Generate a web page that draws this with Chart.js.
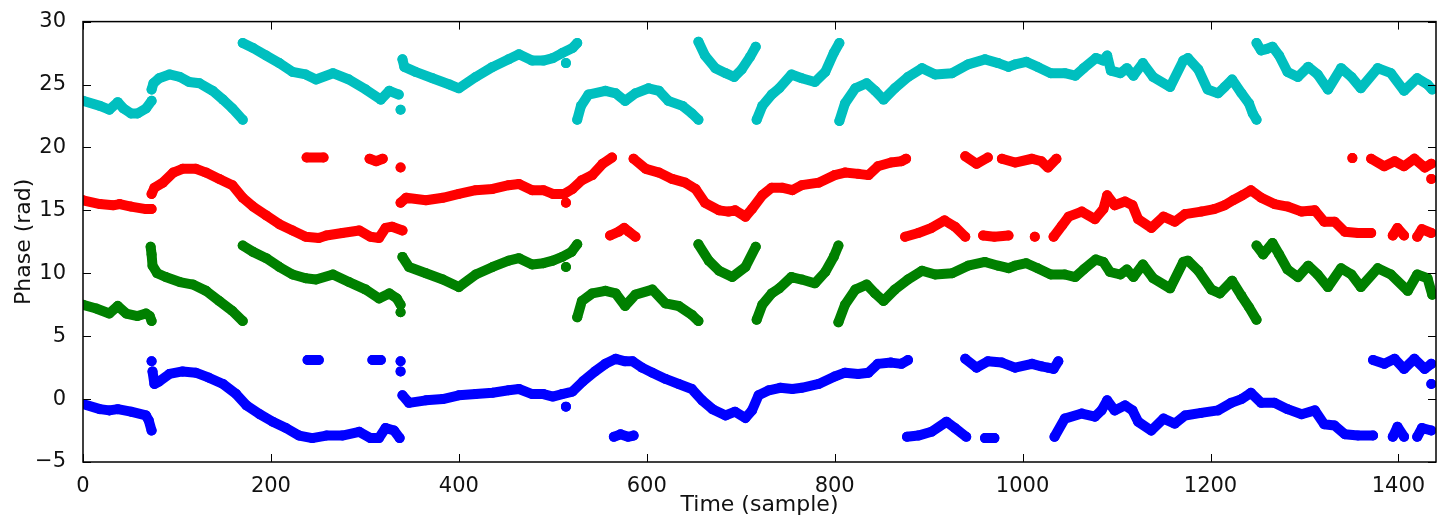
<!DOCTYPE html>
<html>
<head>
<meta charset="utf-8">
<script src="https://cdn.jsdelivr.net/npm/chart.js@4.4.1/dist/chart.umd.min.js"></script>
<style>
	html, body { margin: 0; padding: 0; background: #fff; }
	#wrap { width: 1441px; height: 520px; }
</style>
</head>
<body>
<div id="wrap"><canvas id="phaseChart"></canvas></div>
<script>
// tick labels
var xTicks = [0, 200, 400, 600, 800, 1000, 1200, 1400];
var yTicks = [-5, 0, 5, 10, 15, 20, 25, 30];

// [sample, phase], null = break in the trace
var blue = [
	[0,-0.4],[18,-0.8],[28,-0.9],[37,-0.8],[51,-1.0],[67,-1.3],[70,-1.7],[73,-2.5], null,
	[73,3.0], null,
	[74,2.2],[76,1.2],[81,1.4],[92,2.0],[106,2.2],[120,2.1],[134,1.7],[149,1.2],[163,0.4],[174,-0.5],[188,-1.2],[202,-1.8],[216,-2.3],[230,-2.9],[244,-3.1],[259,-2.9],[276,-2.9],[294,-2.6],[306,-3.1],[315,-3.1],[322,-2.3],[331,-2.5],[337,-3.1], null,
	[239,3.1],[251,3.1], null,
	[308,3.1],[317,3.1], null,
	[338,3.0], null,
	[338,2.2], null,
	[340,0.3],[347,-0.3],[365,-0.1],[383,0.0],[400,0.3],[418,0.4],[436,0.5],[453,0.7],[464,0.8],[478,0.4],[490,0.4],[500,0.2],[510,0.4],[521,0.6],[532,1.4],[545,2.2],[556,2.8],[567,3.2],[577,3.0],[585,3.0],[595,2.5],[606,2.1],[620,1.6],[634,1.2],[648,0.8],[659,-0.1],[670,-0.8],[684,-1.3],[694,-1.0],[705,-1.5],[712,-0.9],[719,0.3],[730,0.7],[742,0.9],[755,0.8],[765,0.9],[783,1.2],[800,1.8],[811,2.1],[825,2.0],[836,2.1],[846,2.8],[860,2.9],[871,2.8],[878,3.1], null,
	[514,-0.6], null,
	[565,-3.0],[572,-2.8],[580,-3.0],[586,-2.9], null,
	[877,-3.0],[889,-2.9],[903,-2.6],[919,-1.8],[928,-2.3],[940,-3.0], null,
	[960,-3.1],[970,-3.1], null,
	[939,3.2],[951,2.5],[963,3.0],[978,2.9],[992,2.5],[1010,2.8],[1020,2.6],[1027,2.5],[1033,2.4],[1038,3.0], null,
	[1034,-3.0],[1045,-1.55],[1063,-1.15],[1077,-1.4],[1084,-0.9],[1090,-0.1],[1098,-0.9],[1109,-0.5],[1117,-0.9],[1123,-1.8],[1137,-2.5],[1150,-1.55],[1162,-1.95],[1173,-1.3],[1190,-1.1],[1208,-0.9],[1222,-0.3],[1233,0.0],[1243,0.5],[1254,-0.3],[1268,-0.3],[1282,-0.8],[1297,-1.2],[1311,-0.9],[1321,-2.0],[1332,-2.1],[1343,-2.8],[1357,-2.9],[1373,-2.9], null,
	[1394,-3.0],[1399,-2.2],[1406,-3.0], null,
	[1420,-3.0],[1425,-2.3],[1435,-2.5], null,
	[1373,3.1],[1385,2.8],[1396,3.2],[1406,2.4],[1417,3.2],[1428,2.4],[1435,2.8], null,
	[1435,1.2]
];

var green = [
	[0,7.5],[14,7.2],[28,6.8],[37,7.4],[46,6.8],[58,6.6],[67,6.8],[71,6.6],[73,6.2], null,
	[72,12.1],[73,11.5],[74,10.6],[79,10.0],[88,9.7],[103,9.3],[117,9.1],[131,8.6],[145,7.8],[159,7.0],[170,6.2], null,
	[170,12.2],[181,11.7],[195,11.2],[209,10.5],[223,9.9],[237,9.6],[248,9.5],[266,9.9],[283,9.3],[301,8.7],[315,8.0],[326,8.4],[334,8.0],[338,7.5], null,
	[338,6.9], null,
	[340,11.3],[347,10.5],[365,10.0],[383,9.5],[400,8.9],[418,9.9],[436,10.5],[453,11.0],[464,11.2],[478,10.7],[490,10.8],[500,11.0],[510,11.3],[520,11.7],[526,12.3], null,
	[514,10.5], null,
	[526,6.5],[531,7.8],[542,8.4],[556,8.6],[567,8.4],[577,7.4],[588,8.3],[606,8.7],[620,7.6],[634,7.4],[648,6.7],[655,6.2], null,
	[655,12.3],[666,11.0],[677,10.2],[691,9.7],[705,10.5],[716,12.1], null,
	[717,6.3],[723,7.5],[733,8.4],[741,8.8],[754,9.7],[765,9.5],[779,9.2],[790,10.1],[799,11.3],[804,12.2], null,
	[804,6.1],[811,7.5],[822,8.7],[834,9.1],[843,8.4],[852,7.8],[864,8.7],[878,9.5],[893,10.2],[907,9.9],[925,10.0],[942,10.6],[960,10.9],[974,10.6],[985,10.4],[992,10.6],[1004,10.8],[1016,10.4],[1030,9.9],[1045,9.9],[1056,9.7],[1065,10.3],[1078,11.1],[1086,10.9],[1093,10.1],[1104,9.9],[1111,10.3],[1118,9.7],[1128,10.7],[1139,9.6],[1157,8.8],[1171,10.9],[1176,11.0],[1187,10.2],[1201,8.7],[1210,8.4],[1223,9.4],[1233,8.2],[1241,7.3],[1249,6.3], null,
	[1249,12.2],[1256,11.5],[1266,12.4],[1273,11.5],[1282,10.3],[1293,9.7],[1304,10.6],[1314,9.9],[1325,8.9],[1339,10.4],[1350,9.9],[1360,8.9],[1378,10.4],[1392,9.9],[1410,8.6],[1420,9.9],[1431,9.6],[1436,8.3]
];

var red = [
	[0,15.8],[18,15.5],[32,15.4],[39,15.5],[51,15.3],[67,15.1],[73,15.1], null,
	[73,16.3],[76,16.8],[85,17.2],[96,18.0],[106,18.3],[120,18.3],[131,18.0],[145,17.5],[159,17.0],[170,16.0],[181,15.3],[195,14.6],[209,13.9],[223,13.4],[237,12.9],[251,12.8],[259,13.0],[276,13.2],[294,13.4],[306,12.9],[315,12.8],[322,13.6],[329,13.7],[340,13.4], null,
	[238,19.2],[256,19.2], null,
	[305,19.1],[312,18.9],[319,19.1], null,
	[338,18.4], null,
	[338,15.6],[344,16.0],[365,15.8],[383,16.0],[400,16.3],[418,16.6],[436,16.7],[453,17.0],[464,17.1],[478,16.6],[490,16.6],[500,16.3],[512,16.3],[521,16.7],[531,17.4],[542,17.8],[553,18.7],[563,19.2], null,
	[514,15.6], null,
	[561,13.0],[570,13.3],[576,13.6],[581,13.3],[588,12.9], null,
	[586,19.1],[599,18.3],[613,18.0],[627,17.5],[641,17.2],[652,16.7],[662,15.6],[677,15.0],[687,14.9],[694,15.0],[705,14.5],[712,15.1],[723,16.2],[733,16.8],[744,16.8],[755,16.6],[765,17.0],[783,17.2],[800,17.8],[811,18.0],[825,17.9],[836,17.8],[846,18.5],[860,18.8],[871,18.9],[876,19.1], null,
	[875,12.9],[889,13.2],[903,13.6],[917,14.2],[928,13.7],[939,12.9], null,
	[958,13.0],[970,12.9],[985,13.0], null,
	[1013,12.9], null,
	[939,19.3],[951,18.7],[963,19.2], null,
	[978,19.1],[992,18.8],[1010,19.1],[1020,18.9],[1027,18.4],[1036,19.1], null,
	[1033,12.9],[1042,13.8],[1049,14.5],[1063,14.9],[1077,14.3],[1086,15.1],[1090,16.2],[1098,15.4],[1109,15.7],[1117,15.4],[1123,14.3],[1137,13.6],[1150,14.5],[1162,14.1],[1173,14.7],[1190,14.9],[1204,15.1],[1215,15.4],[1224,15.8],[1234,16.2],[1243,16.6],[1254,16.0],[1268,15.5],[1282,15.3],[1297,14.9],[1311,15.0],[1321,14.1],[1332,14.1],[1343,13.3],[1357,13.2],[1371,13.2], null,
	[1394,13.0],[1399,13.6],[1406,13.0], null,
	[1420,12.9],[1425,13.5],[1435,13.2], null,
	[1351,19.15], null,
	[1371,19.1],[1385,18.5],[1396,18.9],[1406,18.5],[1417,19.1],[1428,18.4],[1435,18.7], null,
	[1435,17.5]
];

var cyan = [
	[0,23.7],[18,23.3],[28,23.0],[37,23.6],[43,23.1],[51,22.7],[58,22.7],[67,23.1],[73,23.7], null,
	[73,24.6],[75,25.1],[81,25.5],[92,25.8],[103,25.6],[113,25.2],[124,25.1],[138,24.5],[149,23.8],[159,23.1],[170,22.2], null,
	[170,28.3],[181,27.9],[195,27.3],[209,26.7],[223,26.0],[237,25.8],[248,25.4],[266,25.9],[283,25.4],[301,24.6],[317,23.8],[326,24.5],[336,24.2], null,
	[338,23.0], null,
	[340,27.0],[342,26.4],[354,26.0],[372,25.5],[390,25.0],[400,24.7],[418,25.6],[436,26.4],[453,27.0],[464,27.4],[478,26.9],[490,26.9],[500,27.1],[510,27.5],[521,27.9],[526,28.3], null,
	[514,26.7], null,
	[526,22.2],[530,23.3],[538,24.2],[556,24.5],[567,24.3],[577,23.7],[588,24.3],[602,24.7],[613,24.5],[623,23.7],[638,23.3],[648,22.7],[655,22.2], null,
	[655,28.4],[662,27.3],[673,26.3],[684,25.9],[693,25.6],[701,26.2],[710,27.2],[716,28.0], null,
	[717,22.2],[723,23.3],[733,24.2],[741,24.7],[754,25.8],[765,25.5],[779,25.2],[790,26.0],[799,27.5],[805,28.3], null,
	[805,22.1],[811,23.5],[822,24.7],[834,25.1],[843,24.5],[852,23.8],[864,24.7],[878,25.6],[893,26.3],[907,25.8],[925,25.9],[942,26.6],[960,27.0],[974,26.7],[985,26.4],[992,26.6],[1004,26.8],[1016,26.4],[1030,25.9],[1045,25.9],[1056,25.7],[1065,26.3],[1078,27.1],[1086,26.9],[1090,27.3],[1094,26.1],[1104,25.9],[1111,26.3],[1118,25.7],[1128,26.7],[1139,25.6],[1157,24.8],[1171,26.9],[1176,27.1],[1187,26.2],[1197,24.6],[1208,24.3],[1215,24.8],[1223,25.4],[1233,24.3],[1241,23.5],[1245,22.7],[1249,22.2], null,
	[1249,28.3],[1254,27.7],[1259,27.8],[1266,28.0],[1273,27.3],[1282,26.0],[1293,25.6],[1304,26.4],[1314,25.8],[1325,24.6],[1339,26.3],[1350,25.6],[1360,24.7],[1378,26.3],[1392,25.9],[1406,24.5],[1420,25.5],[1431,25.0],[1436,24.6]
];

function toPoints(list) {
	var lastX = 0;
	return list.map(function(p) {
		if (p === null) return {x: lastX, y: null};
		lastX = p[0];
		return {x: p[0], y: p[1]};
	});
}

function trace(list, color) {
	return {
		data: toPoints(list),
		showLine: true,
		spanGaps: false,
		borderColor: color,
		backgroundColor: color,
		borderWidth: 10,
		borderCapStyle: 'round',
		borderJoinStyle: 'round',
		pointRadius: 5,
		pointBorderWidth: 0,
		pointBackgroundColor: color,
		clip: 0
	};
}

// inward ticks on all four sides + box, like the original axes
var axesFrame = {
	id: 'axesFrame',
	afterDraw: function(chart) {
		var ctx = chart.ctx, a = chart.chartArea;
		var xs = chart.scales.x, ys = chart.scales.y;
		ctx.save();
		ctx.strokeStyle = '#000';
		ctx.lineWidth = 1;
		ctx.beginPath();
		xTicks.forEach(function(v) {
			var px = Math.round(xs.getPixelForValue(v)) + 0.5;
			ctx.moveTo(px, a.bottom); ctx.lineTo(px, a.bottom - 8);
			ctx.moveTo(px, a.top); ctx.lineTo(px, a.top + 8);
		});
		yTicks.forEach(function(v) {
			var py = Math.round(ys.getPixelForValue(v)) + 0.5;
			ctx.moveTo(a.left, py); ctx.lineTo(a.left + 8, py);
			ctx.moveTo(a.right, py); ctx.lineTo(a.right - 8, py);
		});
		ctx.stroke();
		ctx.lineWidth = 1.5;
		ctx.strokeRect(a.left, a.top, a.right - a.left, a.bottom - a.top);
		ctx.restore();
	}
};

var tickFont = {family: 'DejaVu Sans', size: 21};
var titleFont = {family: 'DejaVu Sans', size: 22};

new Chart('phaseChart', {
	type: 'scatter',
	data: {
		datasets: [
			trace(cyan, '#00bfbf'),
			trace(red, '#ff0000'),
			trace(green, '#008000'),
			trace(blue, '#0000ff')
		]
	},
	options: {
		responsive: true,
		maintainAspectRatio: false,
		animation: false,
		events: [],
		layout: {padding: {left: 10, right: 3, top: 18, bottom: 2}},
		plugins: {legend: {display: false}, tooltip: {enabled: false}},
		scales: {
			x: {
				type: 'linear',
				min: 0,
				max: 1440,
				grid: {display: false},
				border: {display: false},
				ticks: {
					font: tickFont, color: '#111', padding: 4, maxRotation: 0,
					callback: function(v) { return String(v); }
				},
				afterBuildTicks: function(s) { s.ticks = xTicks.map(function(v) { return {value: v}; }); },
				afterFit: function(s) { s.height = 56; },
				title: {display: true, text: 'Time (sample)', font: titleFont, color: '#111', padding: {top: 0, bottom: 0}}
			},
			y: {
				type: 'linear',
				min: -5,
				max: 30,
				grid: {display: false},
				border: {display: false},
				ticks: {
					font: tickFont, color: '#111', padding: 9,
					callback: function(v) { return String(v).replace('-', '\u2212'); }
				},
				afterBuildTicks: function(s) { s.ticks = yTicks.map(function(v) { return {value: v}; }); },
				afterFit: function(s) { s.width = 73; },
				title: {display: true, text: 'Phase (rad)', font: titleFont, color: '#111', padding: {top: 1, bottom: 0}}
			}
		}
	},
	plugins: [axesFrame]
});
</script>
</body>
</html>
